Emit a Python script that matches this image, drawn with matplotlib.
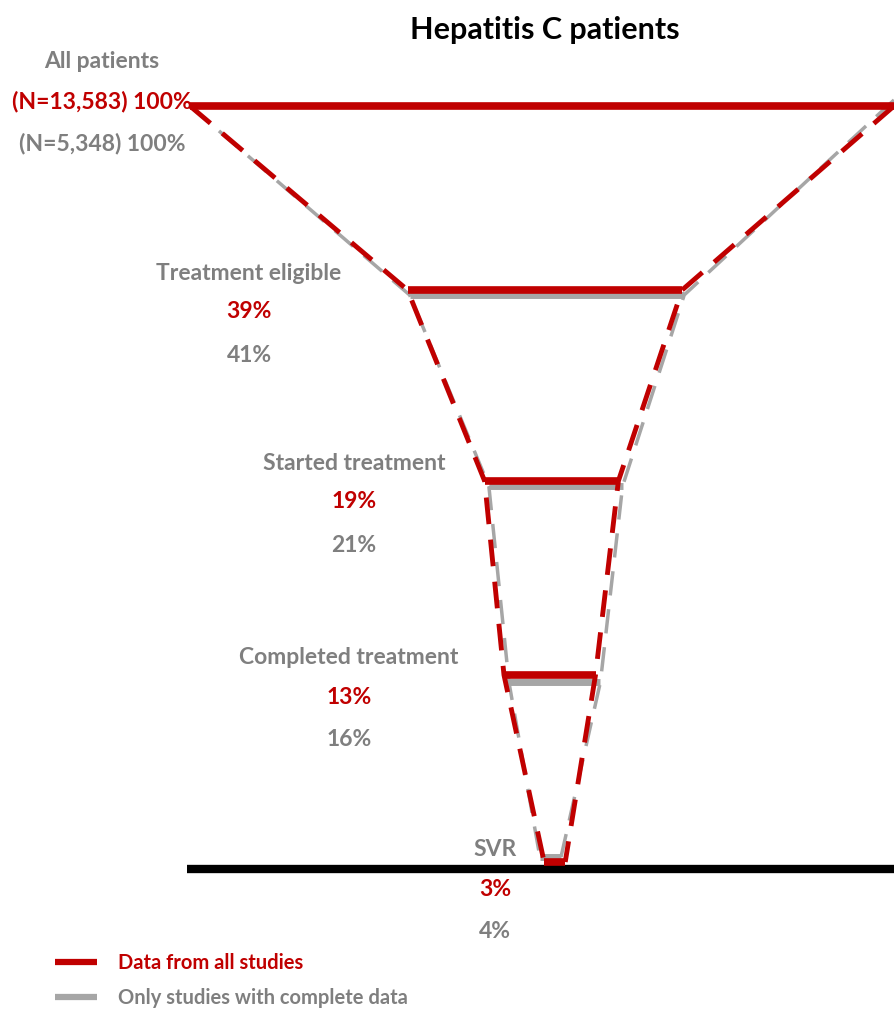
import matplotlib.pyplot as plt

# funnel data
stages = ["All patients", "Treatment eligible", "Started treatment", "Completed treatment", "SVR"]
pct_all = [100, 39, 19, 13, 3]
pct_complete = [100, 41, 21, 16, 4]
n_all = 13583
n_complete = 5348

RED = "#C00000"
GRAY_TXT = "#7F7F7F"
GRAY_LN = "#A6A6A6"
FONT = ["Lato", "DejaVu Sans"]

# layout (pixel rows, centre shift in % units)
y_bar = [106, 290, 481, 675, 862]
shift = [0, 0.4, 1.35, 1.1, 1.8]
label_x = [102, 249, 354, 349, 495]
label_y = [62, 273, 463, 658, 850]


def px(x):
    # pixel column -> axis unit (top bar = 100 units = 704 px)
    return (x - 542) / 7.04


fig = plt.figure(figsize=(8.94, 10.14), dpi=100)
ax = fig.add_axes([0, 0, 1, 1])
ax.set_xlim(px(0), px(894))
ax.set_ylim(1014, 0)
ax.axis("off")

# ends of the bars
red_l = [shift[i] - pct_all[i] / 2 for i in range(5)]
red_r = [shift[i] + pct_all[i] / 2 for i in range(5)]
gdx = [0, 0.3, 0.6, 0.7, -0.6]
gdy = [0, 5, 5, 7, -5]
gry_l = [red_l[i] + gdx[i] for i in range(5)]
gry_r = [red_r[i] + gdx[i] for i in range(5)]
gry_y = [y_bar[i] + gdy[i] for i in range(5)]
gry_r[0] = red_r[0]
gry_y_r = list(gry_y)
gry_y_r[0] = 100

# baseline
ax.plot([px(187), px(894)], [869, 869], color="black", lw=6, solid_capstyle="butt", zorder=1)

# gray dashed sides + bars
ax.plot(gry_l, gry_y, color=GRAY_LN, lw=2.5, ls=(0, (7, 4)), zorder=2)
ax.plot(gry_r, gry_y_r, color=GRAY_LN, lw=2.5, ls=(0, (7, 4)), zorder=2)
for i in range(1, 5):
    ax.plot([gry_l[i], gry_r[i]], [gry_y[i], gry_y[i]], color=GRAY_LN, lw=5,
            solid_capstyle="butt", zorder=3)

# red dashed sides + bars
ax.plot(red_l, y_bar, color=RED, lw=3.5, ls=(0, (5.5, 3.2)), zorder=4)
ax.plot(red_r, y_bar, color=RED, lw=3.5, ls=(0, (5.5, 3.2)), zorder=4)
for i in range(5):
    ax.plot([red_l[i], red_r[i]], [y_bar[i], y_bar[i]], color=RED, lw=5.5,
            solid_capstyle="butt", zorder=5)

# title
ax.text(px(545), 30, "Hepatitis C patients", ha="center", va="center",
        fontsize=22, fontweight="bold", color="black", family=FONT)

# stage labels
for i in range(5):
    x = px(label_x[i])
    y = label_y[i]
    ax.text(x, y, stages[i], ha="center", va="center", fontsize=16.5,
            fontweight="bold", color=GRAY_TXT, family=FONT)
    if i == 0:
        t_red = "(N={:,}) {}%".format(n_all, pct_all[i])
        t_gry = "(N={:,}) {}%".format(n_complete, pct_complete[i])
    else:
        t_red = "{}%".format(pct_all[i])
        t_gry = "{}%".format(pct_complete[i])
    ax.text(x, y + 39, t_red, ha="center", va="center", fontsize=16.5,
            fontweight="bold", color=RED, family=FONT)
    ax.text(x, y + 82, t_gry, ha="center", va="center", fontsize=16.5,
            fontweight="bold", color=GRAY_TXT, family=FONT)

# legend
ax.plot([px(55), px(97)], [962, 962], color=RED, lw=4.5, solid_capstyle="butt")
ax.plot([px(55), px(97)], [997, 997], color=GRAY_LN, lw=4.5, solid_capstyle="butt")
ax.text(px(118), 963, "Data from all studies", ha="left", va="center", fontsize=14.5,
        fontweight="bold", color=RED, family=FONT)
ax.text(px(118), 998, "Only studies with complete data", ha="left", va="center",
        fontsize=14.5, fontweight="bold", color=GRAY_TXT, family=FONT)

plt.savefig("out.png", dpi=100)
plt.close("all")
